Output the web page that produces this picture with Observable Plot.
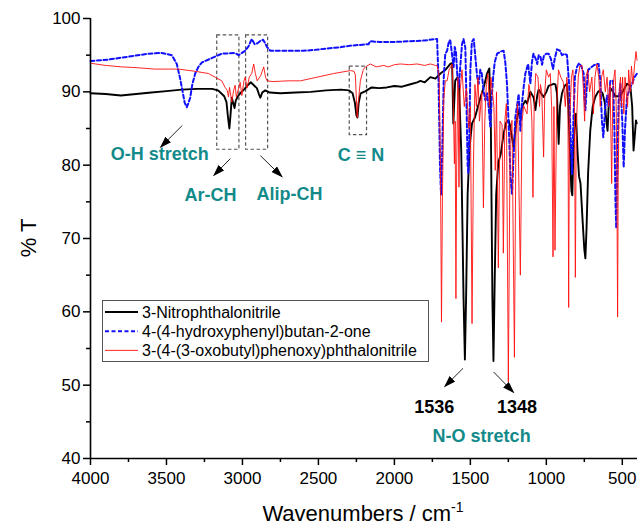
<!DOCTYPE html>
<html><head><meta charset="utf-8">
<script src="https://cdn.jsdelivr.net/npm/d3@7"></script>
<script src="https://cdn.jsdelivr.net/npm/@observablehq/plot@0.6"></script>
<style>
html,body{margin:0;padding:0;background:#fff;}
#chart{width:638px;height:527px;}
</style></head><body><div id="chart"></div>
<script>
// ---- data: [wavenumber (cm-1), %T] ----
const nitrophthalonitrile = [
[4000,89.8],[3900,89.7],[3800,89.5],[3700,89.7],[3600,89.9],[3500,90.1],[3400,90.3],[3300,90.4],[3200,90.4],[3160,90.2],
[3140,89.8],[3120,89.4],[3105,88.6],[3095,86.5],[3086,85.0],[3078,87.0],[3070,89.2],[3060,88.4],[3052,87.8],[3044,88.8],
[3030,89.4],[3010,89.9],[2990,90.3],[2965,90.9],[2945,91.3],[2925,90.9],[2905,90.5],[2890,89.6],[2882,89.2],[2870,89.9],
[2850,90.2],[2820,89.9],[2750,89.8],[2650,89.9],[2550,90.0],[2450,90.2],[2350,90.3],[2300,90.2],[2275,89.8],[2260,88.5],
[2250,86.8],[2243,86.5],[2235,88.5],[2222,89.8],[2190,90.1],[2150,90.6],[2100,90.5],[2050,90.6],[2000,90.8],[1950,90.7],
[1900,91.0],[1850,91.3],[1829,91.5],[1800,91.3],[1763,92.0],[1730,91.8],[1697,92.5],[1664,93.0],[1632,93.8],[1620,93.9],
[1612,85.7],[1600,91.5],[1585,92.0],[1575,91.0],[1560,82.0],[1545,62.0],[1536,53.5],[1528,62.0],[1518,76.0],[1505,82.5],
[1489,85.7],[1470,86.5],[1450,88.0],[1434,89.2],[1410,90.8],[1390,92.5],[1375,93.2],[1365,85.0],[1355,62.0],[1348,53.3],
[1340,64.0],[1330,76.0],[1316,80.4],[1300,81.5],[1281,84.3],[1265,85.8],[1248,86.1],[1240,85.5],[1228,84.0],[1215,82.4],
[1200,85.5],[1182,87.5],[1171,86.5],[1160,88.0],[1138,88.8],[1127,88.4],[1105,90.0],[1083,89.2],[1072,87.5],[1060,89.5],
[1051,90.3],[1035,89.8],[1018,89.3],[1000,90.0],[985,90.8],[952,91.1],[940,91.0],[930,89.8],[919,82.9],[910,88.0],
[897,89.8],[880,90.8],[864,91.1],[855,88.0],[845,82.0],[835,76.5],[829,75.9],[822,82.0],[812,86.5],[805,87.0],
[795,82.0],[785,78.5],[775,77.5],[760,72.0],[750,68.5],[743,67.3],[736,71.0],[725,79.0],[711,84.7],[695,88.0],
[678,89.3],[660,90.0],[645,90.2],[630,89.8],[615,88.5],[605,86.0],[597,84.7],[590,88.0],[579,90.5],[560,90.0],
[546,89.4],[513,89.4],[490,90.3],[469,91.1],[447,90.8],[435,88.0],[426,82.0],[418,84.0],[410,86.1],[405,85.7]
];
const hydroxyphenylButanone = [
[4000,94.2],[3882,94.4],[3750,94.8],[3618,95.2],[3531,95.3],[3465,95.0],[3432,93.8],[3410,91.8],[3399,90.6],[3380,88.5],
[3366,87.9],[3355,88.5],[3344,89.2],[3330,91.0],[3311,92.5],[3290,93.4],[3267,94.0],[3202,94.6],[3136,95.2],[3048,95.3],
[3026,95.0],[2982,95.6],[2960,96.2],[2939,97.2],[2920,96.5],[2903,96.6],[2885,96.9],[2864,97.1],[2850,96.6],[2838,96.1],
[2816,95.6],[2700,95.6],[2600,95.6],[2533,95.7],[2450,95.9],[2350,96.1],[2289,96.3],[2224,96.4],[2170,96.5],[2160,96.9],
[2100,96.8],[2000,96.8],[1900,96.9],[1800,97.0],[1730,97.2],[1719,97.2],[1710,92.0],[1700,80.0],[1693,76.0],[1685,82.0],
[1675,92.0],[1665,95.2],[1653,95.6],[1640,97.0],[1632,97.0],[1620,95.0],[1610,93.4],[1603,96.1],[1595,95.5],[1585,92.0],
[1577,90.6],[1568,93.0],[1555,96.5],[1545,97.2],[1533,96.0],[1525,88.0],[1518,80.0],[1513,78.9],[1507,84.0],[1500,93.0],
[1490,96.8],[1478,97.2],[1468,95.0],[1455,92.0],[1445,91.1],[1435,93.0],[1425,92.5],[1412,90.0],[1401,88.8],[1390,89.8],
[1380,88.0],[1368,85.1],[1360,89.0],[1350,92.0],[1340,94.0],[1324,95.2],[1300,95.5],[1281,95.6],[1270,94.0],[1259,91.1],
[1245,84.0],[1235,78.0],[1226,76.1],[1218,80.0],[1204,86.5],[1190,88.5],[1182,89.7],[1171,84.7],[1160,88.5],[1150,90.5],
[1138,92.5],[1120,93.8],[1110,92.0],[1105,91.1],[1095,94.0],[1085,95.2],[1070,94.5],[1060,93.8],[1050,95.0],[1039,94.8],
[1028,93.7],[1015,95.0],[1000,95.2],[985,95.2],[970,94.5],[956,93.1],[945,94.5],[930,95.8],[910,95.6],[897,95.0],
[880,95.2],[864,95.0],[850,91.0],[842,85.0],[831,78.8],[822,86.0],[812,92.0],[798,93.4],[785,93.9],[770,93.5],
[754,92.5],[748,89.0],[743,87.5],[736,90.0],[725,93.0],[706,93.3],[689,93.6],[670,93.8],[656,93.8],[645,91.5],
[634,86.0],[625,83.8],[612,88.0],[600,89.5],[590,88.0],[579,91.5],[561,91.5],[552,85.0],[545,75.0],[540,71.4],
[533,80.0],[524,88.8],[513,91.1],[500,86.0],[491,79.7],[482,85.0],[469,89.3],[450,90.5],[436,91.1],[420,92.0],[403,92.5]
];
const oxobutylPhenoxyPhthalonitrile = [
[4000,93.9],[3900,93.6],[3794,93.4],[3700,93.3],[3575,93.1],[3421,93.1],[3311,92.8],[3224,92.5],[3180,92.0],[3136,91.5],
[3114,90.6],[3100,90.2],[3092,89.3],[3085,90.6],[3070,88.6],[3058,90.2],[3048,90.9],[3040,89.3],[3025,90.5],[3015,91.3],
[3004,89.5],[2990,91.5],[2982,92.0],[2970,90.5],[2955,92.0],[2939,92.5],[2926,93.8],[2915,92.5],[2903,91.5],[2880,92.2],
[2860,93.4],[2848,92.0],[2838,91.5],[2800,91.4],[2700,91.5],[2618,91.5],[2509,92.0],[2399,92.5],[2289,92.9],[2265,92.8],
[2257,92.3],[2250,89.0],[2245,86.5],[2238,88.5],[2224,91.5],[2205,93.0],[2191,93.4],[2158,93.8],[2120,93.4],[2070,93.6],
[2040,93.4],[2000,93.7],[1961,93.8],[1900,93.7],[1851,93.8],[1800,93.6],[1763,93.8],[1730,93.6],[1719,93.6],[1705,92.0],
[1697,80.0],[1690,58.6],[1684,75.0],[1675,89.0],[1665,91.5],[1653,91.5],[1640,93.0],[1620,93.8],[1612,88.0],[1605,80.2],
[1600,86.0],[1595,61.8],[1590,80.0],[1582,92.0],[1575,77.0],[1568,90.0],[1555,93.0],[1540,88.0],[1526,90.5],[1510,85.0],
[1500,88.0],[1489,58.4],[1480,80.0],[1470,91.0],[1460,88.0],[1450,92.0],[1440,86.0],[1425,90.0],[1414,74.2],[1405,86.0],
[1395,91.0],[1385,92.5],[1375,88.0],[1365,92.0],[1355,90.0],[1345,88.0],[1336,79.3],[1328,90.0],[1316,66.0],[1305,86.0],
[1291,85.5],[1283,68.0],[1273,86.0],[1263,88.4],[1250,50.4],[1238,84.0],[1226,86.1],[1210,53.8],[1200,84.0],[1189,88.4],
[1171,65.0],[1160,86.0],[1149,88.1],[1127,87.0],[1115,91.0],[1105,89.8],[1095,86.0],[1088,75.6],[1080,88.0],[1070,92.5],
[1055,92.0],[1045,88.0],[1039,91.0],[1030,90.0],[1018,81.1],[1010,90.0],[1000,93.0],[985,92.0],[974,92.5],[965,88.0],
[956,67.5],[950,88.0],[943,68.4],[932,88.0],[920,93.0],[905,92.0],[888,91.3],[875,88.0],[865,92.0],[858,90.0],
[853,60.6],[848,85.0],[835,92.0],[825,93.0],[815,88.0],[809,64.7],[803,85.0],[790,92.0],[780,93.5],[765,93.6],
[755,90.0],[748,86.0],[740,92.0],[728,93.0],[715,90.0],[700,92.0],[690,87.0],[680,92.0],[667,93.8],[655,92.0],
[645,88.0],[637,92.0],[625,93.0],[612,90.0],[600,92.0],[590,88.0],[580,91.0],[570,77.5],[562,90.0],[555,92.0],
[548,93.0],[540,88.0],[535,75.0],[531,59.3],[527,78.0],[520,90.0],[512,92.0],[505,88.0],[498,92.0],[490,87.0],
[482,92.0],[475,90.0],[465,88.0],[458,93.0],[448,90.0],[440,93.5],[430,91.0],[420,93.5],[410,95.5],[403,94.3]
];

const seriesNames = ["3-Nitrophthalonitrile", "4-(4-hydroxyphenyl)butan-2-one", "3-(4-(3-oxobutyl)phenoxy)phthalonitrile"];

const xTicks = [4000, 3500, 3000, 2500, 2000, 1500, 1000, 500];
const xMinorTicks = [3750, 3250, 2750, 2250, 1750, 1250, 750];
const yTicks = [40, 50, 60, 70, 80, 90, 100];
const yMinorTicks = [45, 55, 65, 75, 85, 95];

// annotations (anchored in data space)
const labelTexts = ["O-H stretch", "Ar-CH", "Alip-CH", "C \u2261 N", "1536", "1348", "N-O stretch"];
const labelWn    = [3545, 3211, 2691, 2219, 1737, 1193, 1426];
const labelT     = [81.5, 75.9, 76.1, 81.3, 47.0, 47.0, 43.0];
const labelIsBand = [true, true, true, true, false, false, true];

const boxWn1 = [3166, 2976, 2294];
const boxWn2 = [3020, 2831, 2180];
const boxT1  = [97.7, 97.7, 93.45];
const boxT2  = [82.1, 82.1, 84.1];

const arrowWn1 = [3397, 3079, 2882, 1548, 1347];
const arrowT1  = [85.4, 80.9, 81.3, 52.3, 51.8];
const arrowWn2 = [3539, 3189, 2739, 1669, 1215];
const arrowT2  = [82.45, 78.6, 78.4, 49.8, 49.0];

// ---- build tables ----
const rows = (pairs) => pairs.map(([wn, t]) => ({wn, t}));
const black = rows(nitrophthalonitrile);
const blue = rows(hydroxyphenylButanone);
const red = rows(oxobutylPhenoxyPhthalonitrile);
const labels = labelTexts.map((text, i) => ({text, wn: labelWn[i], t: labelT[i], band: labelIsBand[i]}));
const boxes = boxWn1.map((w, i) => ({x1: w, x2: boxWn2[i], y1: boxT1[i], y2: boxT2[i]}));
const arrows = arrowWn1.map((w, i) => ({x1: w, y1: arrowT1[i], x2: arrowWn2[i], y2: arrowT2[i]}));

const TEAL = "#138a8a";
const FONT = "'Liberation Sans', Arial, Helvetica, sans-serif";

const plot = Plot.plot({
  width: 638, height: 527,
  marginLeft: 90, marginRight: 1, marginTop: 18, marginBottom: 69,
  style: {fontFamily: FONT, fontSize: "17px", color: "#000", background: "#fff", overflow: "visible"},
  x: {type: "linear", domain: [4000, 400]},
  y: {type: "linear", domain: [40, 100]},
  marks: [
    Plot.axisX(xTicks, {tickSize: 7, tickPadding: 6, tickFormat: d => String(d), fontSize: 17, label: null, strokeWidth: 1.5}),
    Plot.axisX(xMinorTicks, {tickSize: 4, tickFormat: () => "", label: null, strokeWidth: 1.5}),
    Plot.axisY(yTicks, {tickSize: 7, tickPadding: 3, tickFormat: d => String(d), fontSize: 17, label: null, strokeWidth: 1.5}),
    Plot.axisY(yMinorTicks, {tickSize: 4, tickFormat: () => "", label: null, strokeWidth: 1.5}),
    Plot.rect(boxes, {x1: "x1", x2: "x2", y1: "y1", y2: "y2", fill: "none", stroke: "#555", strokeWidth: 1.2, strokeDasharray: "3.5,2.5"}),
    Plot.line(black, {x: "wn", y: "t", stroke: "#000", strokeWidth: 1.9}),
    Plot.line(blue, {x: "wn", y: "t", stroke: "#1010ff", strokeWidth: 2, strokeDasharray: "4,2.5"}),
    Plot.line(red, {x: "wn", y: "t", stroke: "#ff1010", strokeWidth: 1, strokeOpacity: 0.9}),
    Plot.ruleX([4000], {stroke: "#000", strokeWidth: 1.6}),
    Plot.ruleY([40], {stroke: "#000", strokeWidth: 1.6}),
    Plot.link(arrows, {x1: "x1", y1: "y1", x2: "x2", y2: "y2", stroke: "#222", strokeWidth: 1}),
    Plot.text(labels, {x: "wn", y: "t", text: "text", fill: d => d.band ? TEAL : "#000", fontSize: 18, fontWeight: "bold"})
  ]
});

const svg = d3.select(plot);
svg.style("font-family", FONT);
// filled arrow heads
const defs = svg.insert("defs", ":first-child");
defs.append("marker").attr("id", "ah").attr("viewBox", "0 0 12 8").attr("refX", 11).attr("refY", 4)
  .attr("markerWidth", 12).attr("markerHeight", 8).attr("markerUnits", "userSpaceOnUse").attr("orient", "auto")
  .append("path").attr("d", "M0,0L12,4L0,8Z").attr("fill", "#000");
svg.selectAll("g[aria-label=link] path").attr("marker-end", "url(#ah)");

// axis titles
svg.append("text").attr("transform", "translate(36,238) rotate(-90)").attr("text-anchor", "middle")
  .attr("fill", "#000").style("font-size", "22px").text("% T");
const xt = svg.append("text").attr("x", 363).attr("y", 521).attr("text-anchor", "middle")
  .attr("fill", "#000").style("font-size", "22px");
xt.append("tspan").text("Wavenumbers / cm");
xt.append("tspan").attr("dy", -9).style("font-size", "14px").text("-1");

// legend
const lg = svg.append("g").attr("text-anchor", "start");
lg.append("rect").attr("x", 102.5).attr("y", 300.5).attr("width", 326).attr("height", 61)
  .attr("fill", "#fff").attr("stroke", "#555").attr("stroke-width", 1);
const legendStyles = [
  {stroke: "#000", width: 1.9, dash: null, opacity: 1},
  {stroke: "#1010ff", width: 2, dash: "4,2.5", opacity: 1},
  {stroke: "#ff1010", width: 1, dash: null, opacity: 0.9}
];
seriesNames.forEach((name, i) => {
  const yy = 312 + i * 19.2;
  const s = legendStyles[i];
  const ln = lg.append("line").attr("x1", 105).attr("x2", 138).attr("y1", yy).attr("y2", yy)
    .attr("stroke", s.stroke).attr("stroke-width", s.width).attr("stroke-opacity", s.opacity);
  if (s.dash) ln.attr("stroke-dasharray", s.dash);
  lg.append("text").attr("x", 142).attr("y", yy).attr("dy", "0.35em").attr("fill", "#000")
    .attr("text-anchor", "start").style("font-size", "16px").text(name);
});

document.getElementById("chart").appendChild(plot);
</script>
</body></html>
